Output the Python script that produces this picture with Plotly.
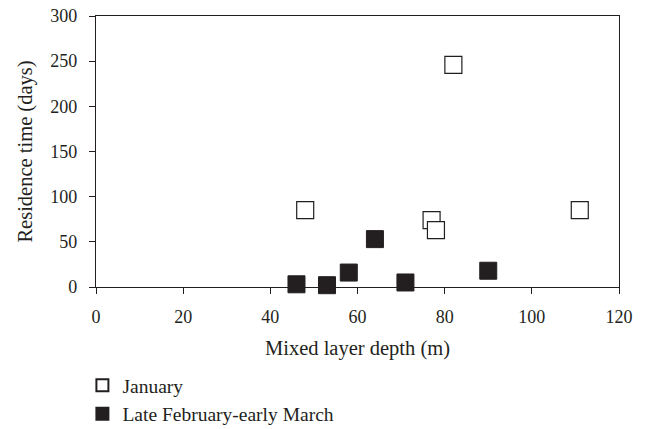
import plotly.graph_objects as go

# January (open squares)
jan_depth = [48, 77, 78, 82, 111]
jan_time = [85, 74, 63, 246, 85]

# Late February-early March (filled squares)
feb_depth = [46, 53, 58, 64, 71, 90]
feb_time = [3, 2, 16, 53, 5, 18]

x_ticks = [0, 20, 40, 60, 80, 100, 120]
y_ticks = [0, 50, 100, 150, 200, 250, 300]

INK = "#231f20"
FONT = "Liberation Serif"

fig = go.Figure()
fig.add_trace(go.Scatter(
    x=jan_depth, y=jan_time, mode="markers", name="January",
    marker=dict(symbol="square", size=17, color="white",
                line=dict(color=INK, width=1.2)),
    cliponaxis=False,
))
fig.add_trace(go.Scatter(
    x=feb_depth, y=feb_time, mode="markers", name="Late February-early March",
    marker=dict(symbol="square", size=17, color=INK,
                line=dict(color=INK, width=1)),
    cliponaxis=False,
))

axis_common = dict(
    showgrid=False, zeroline=False, showline=True, linecolor=INK, linewidth=1.2,
    mirror=True, ticks="outside", ticklen=6, tickwidth=1.2, tickcolor=INK,
    tickfont=dict(family=FONT, size=18, color=INK),
    ticklabeloverflow="allow",
)

fig.update_xaxes(
    range=[0, 120], tickvals=x_ticks, ticktext=[str(v) for v in x_ticks],
    title=dict(text="Mixed layer depth (m)", font=dict(family=FONT, size=20.5, color=INK),
               standoff=14),
    ticklabelstandoff=7,
    **axis_common,
)
fig.update_yaxes(
    range=[0, 300], tickvals=y_ticks, ticktext=[str(v) for v in y_ticks],
    title=dict(text="Residence time (days)", font=dict(family=FONT, size=20.5, color=INK),
               standoff=12),
    ticklabelstandoff=8,
    **axis_common,
)

fig.update_layout(
    width=645, height=429,
    margin=dict(l=96, r=26, t=16, b=142, autoexpand=False),
    plot_bgcolor="white", paper_bgcolor="white",
    font=dict(family=FONT, size=20.5, color=INK),
    legend=dict(
        x=-0.026, y=-0.292, xanchor="left", yanchor="top",
        orientation="v", itemsizing="constant",
        font=dict(family=FONT, size=19.5, color=INK),
        bgcolor="rgba(0,0,0,0)",
    ),
    showlegend=True,
)

# remove the page's default 8px body margin so the figure fills the window
fig.write_html(
    "out.html",
    config={"displayModeBar": False},
    post_script="document.body.style.margin='0';document.body.style.overflow='hidden';",
)
